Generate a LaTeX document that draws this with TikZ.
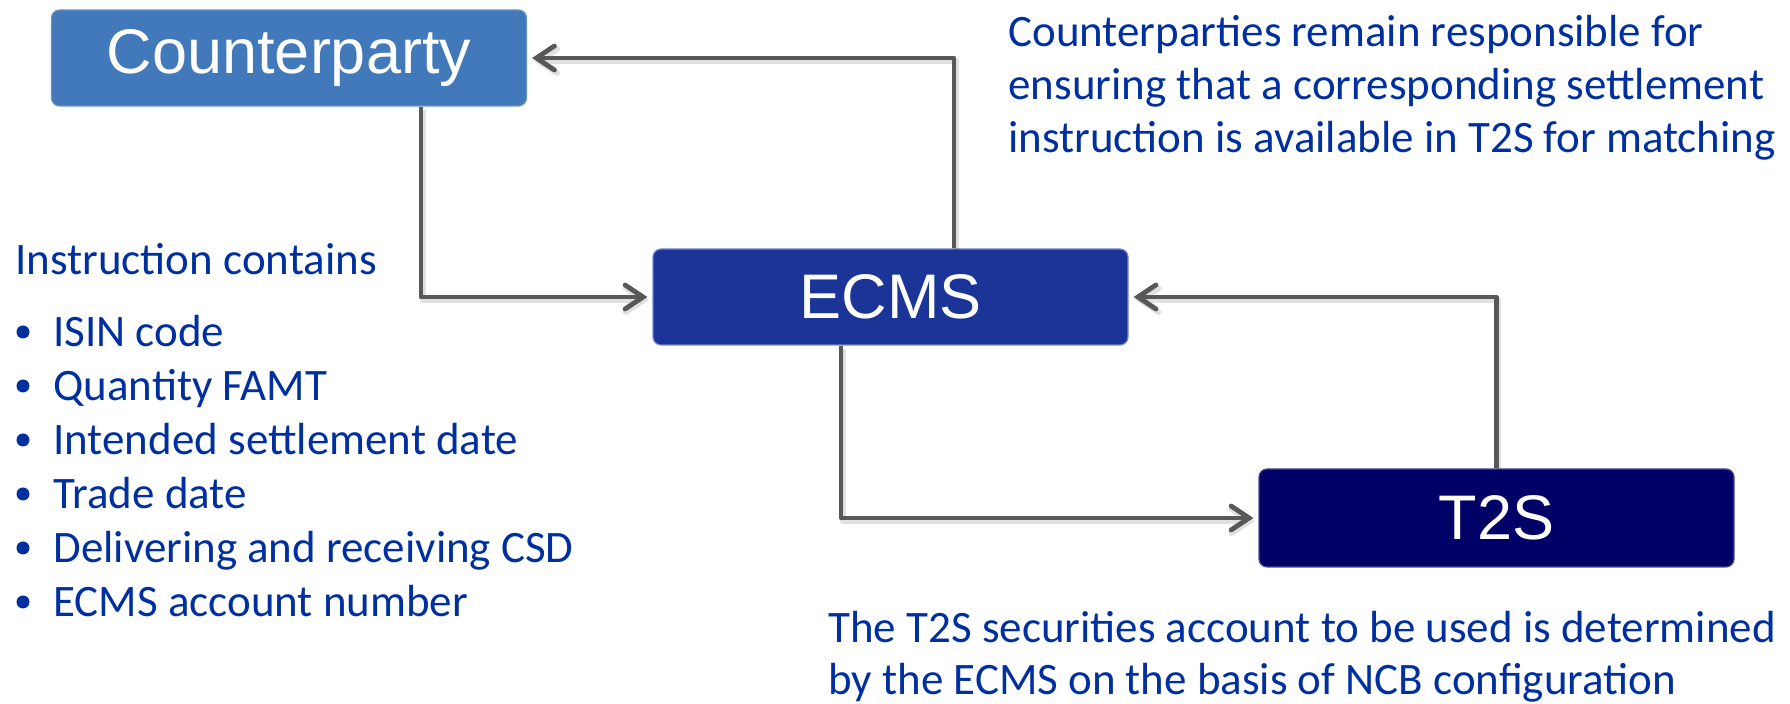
\documentclass[tikz,border=0pt]{standalone}
\usepackage{fontspec}
\setmainfont{Carlito}
\newfontfamily\boxfont{Liberation Sans}
\usetikzlibrary{arrows.meta}
\definecolor{cpblue}{RGB}{66,121,186}
\definecolor{ecmsblue}{RGB}{26,53,151}
\definecolor{tsblue}{RGB}{0,0,102}
\definecolor{txtblue}{RGB}{0,48,160}
\definecolor{arrgray}{RGB}{88,88,88}
\begin{document}
\begin{tikzpicture}[x=0.5pt,y=-0.5pt,
  box/.style={rectangle, rounded corners=4pt, inner sep=0pt,
    minimum width=237.5pt, minimum height=48pt, text=white,
    font=\boxfont\fontsize{31.5}{36}\selectfont, line width=0.6pt},
  conn/.style={draw=arrgray, line width=2.4pt, line join=round,
    -{Straight Barb[length=9pt,width=12pt,line cap=round]}, shorten >=2.5pt},
  shad/.style={draw=black, opacity=0.12, line width=3pt, line join=round,
    -{Straight Barb[length=9pt,width=12pt,line cap=round]}, shorten >=2.5pt},
  txt/.style={anchor=base west, inner sep=0pt, text=txtblue,
    font=\fontsize{22.5}{26.5}\selectfont},
  bul/.style={circle, fill=txtblue, inner sep=0pt, minimum size=6.5pt}]
\useasboundingbox (0,0) rectangle (1790,704);
\node[box, fill=cpblue, draw=cpblue!80!white] (cp) at (289,58) {Counterparty};
\node[box, fill=ecmsblue, draw=ecmsblue!60!white] (ecms) at (890.5,297) {ECMS};
\node[box, fill=tsblue, minimum height=49pt, draw=tsblue!70!white] (ts) at (1496.5,518) {T2S};
\coordinate (k1) at (421,0);
\coordinate (k2) at (954,0);
\coordinate (k3) at (841,0);
\begin{scope}[transform canvas={xshift=0.8pt,yshift=-1.5pt}]
\draw[shad] (cp.south -| k1) |- (ecms.west);
\draw[shad] (ecms.north -| k2) |- (cp.east);
\draw[shad] (ecms.south -| k3) |- (ts.west);
\draw[shad] (ts.north) |- (ecms.east);
\end{scope}
\draw[conn] (cp.south -| k1) |- (ecms.west);
\draw[conn] (ecms.north -| k2) |- (cp.east);
\draw[conn] (ecms.south -| k3) |- (ts.west);
\draw[conn] (ts.north) |- (ecms.east);
% top right text
\node[txt] (r1) at (1008,47) {Counterparties remain responsible for};
\node[txt] (r2) at (1008,100) {ensuring that a corresponding settlement};
\node[txt] (r3) at (1008,153) {instruction is available in T2S for matching};
% left text
\node[txt] (h) at (15,275) {Instruction contains};
\foreach \t/\yy [count=\i] in {ISIN code/347, Quantity FAMT/401, Intended settlement date/455, Trade date/509, Delivering and receiving CSD/563, ECMS account number/617}{
  \node[bul] (b\i) at (23,\yy-15) {};
  \node[txt] (l\i) at (53,\yy) {\t};
}
% bottom text
\node[txt] (s1) at (828,643) {The T2S securities account to be used is determined};
\node[txt] (s2) at (828,695) {by the ECMS on the basis of NCB configuration};
\end{tikzpicture}
\end{document}
